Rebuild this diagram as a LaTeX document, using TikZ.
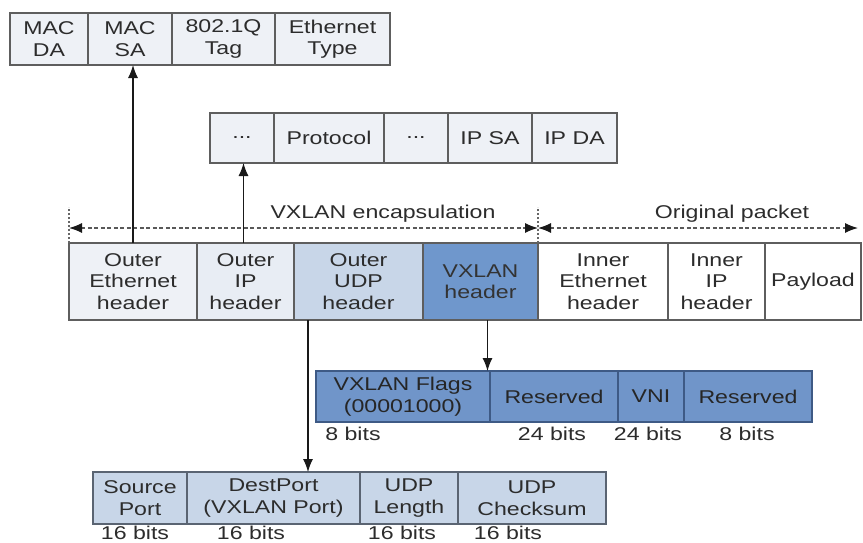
\documentclass[tikz,border=0pt]{standalone}
\usepackage{fontspec}
\setmainfont{Liberation Sans}[FakeStretch=1.25]
\usetikzlibrary{arrows.meta,calc}

\definecolor{txt}{HTML}{2C2C2C}
\definecolor{edge}{HTML}{5E5E5E}
\definecolor{pale}{HTML}{EEF1F6}
\definecolor{paleip}{HTML}{E8EDF4}
\definecolor{udpfill}{HTML}{C8D6E8}
\definecolor{vxfill}{HTML}{6F97CC}
\definecolor{flagfill}{HTML}{7095C9}
\definecolor{flagedge}{HTML}{3E5A85}
\definecolor{udpedge}{HTML}{5A6472}

\begin{document}
\begin{tikzpicture}[x=1pt,y=-1pt,
  every node/.style={font=\fontsize{18.5}{21.5}\selectfont, text=txt},
  cell/.style={draw=edge, line width=1.4pt, inner sep=0pt, outer sep=0pt,
    align=center, fill=pale},
  flagcell/.style={cell, draw=flagedge, fill=flagfill, text=black!85},
  udpcell/.style={cell, draw=udpedge, fill=udpfill},
  bitlbl/.style={inner sep=0pt},
  conn/.style={draw=black!90, line width=1.2pt, -{Latex[length=13pt,width=10pt]}},
  dimline/.style={draw=black!65, line width=1.2pt, dash pattern=on 4pt off 2.5pt,
    {Latex[length=13pt,width=10pt,fill=black!90,color=black!90]}-{Latex[length=13pt,width=10pt,fill=black!90,color=black!90]}},
  dimtick/.style={draw=black!60, line width=1.2pt, dash pattern=on 2pt off 2pt}]

\useasboundingbox (0,0) rectangle (863,542);
\fill[white] (0,0) rectangle (863,542);

% Ethernet header fields
\node[cell, minimum width=78pt,  minimum height=52pt] (macda) at (49,39)    {MAC\\DA};
\node[cell, minimum width=84pt,  minimum height=52pt] (macsa) at (130,39)   {MAC\\SA};
\node[cell, minimum width=103pt, minimum height=52pt] (vtag)  at (223.5,39) {802.1Q\\Tag};
\node[cell, minimum width=115pt, minimum height=52pt] (etype) at (332.5,39) {Ethernet\\Type};

% IP header fields
\node[cell, minimum width=64pt, minimum height=50pt] (ipa)   at (242,138)   {...};
\node[cell, minimum width=110pt,minimum height=50pt] (proto) at (329,138)   {Protocol};
\node[cell, minimum width=64pt, minimum height=50pt] (ipb)   at (416,138)   {...};
\node[cell, minimum width=84pt, minimum height=50pt] (ipsa)  at (490,138)   {IP SA};
\node[cell, minimum width=85pt, minimum height=50pt] (ipda)  at (574.5,138) {IP DA};

% VXLAN packet
\node[cell, minimum width=128pt, minimum height=77pt] (oeth) at (133,281.5)   {Outer\\Ethernet\\header};
\node[cell, minimum width=97pt,  minimum height=77pt, fill=paleip] (oip) at (245.5,281.5) {Outer\\IP\\header};
\node[cell, minimum width=129pt, minimum height=77pt, fill=udpfill] (oudp) at (358.5,281.5) {Outer\\UDP\\header};
\node[cell, minimum width=115pt, minimum height=77pt, fill=vxfill, text=black!80] (vxh) at (480.5,281.5) {VXLAN\\header};
\node[cell, minimum width=130pt, minimum height=77pt, fill=white] (ieth) at (603,281.5)   {Inner\\Ethernet\\header};
\node[cell, minimum width=97pt,  minimum height=77pt, fill=white] (iip)  at (716.5,281.5) {Inner\\IP\\header};
\node[cell, minimum width=96pt,  minimum height=77pt, fill=white] (pay)  at (813,281.5)   {Payload};

% Extent markers above the packet
\coordinate (encL)  at (69,228);
\coordinate (encR)  at (538,228);
\coordinate (origR) at (858,228);
\draw[dimtick] (oeth.north west) -- ++(0,-36);
\draw[dimtick] (ieth.north west) -- ++(0,-36);
\draw[dimline] (encL) -- (encR);
\draw[dimline] (encR) -- (origR);
\node (enclbl)  at (383,214) {VXLAN encapsulation};
\node (origlbl) at (732,214) {Original packet};

% VXLAN header fields
\node[flagcell, minimum width=174pt, minimum height=51pt] (flags) at (403,396.5) {VXLAN Flags\\(00001000)};
\node[flagcell, minimum width=128pt, minimum height=51pt] (resa)  at (554,396.5) {Reserved};
\node[flagcell, minimum width=66pt,  minimum height=51pt] (vni)   at (651,396.5) {VNI};
\node[flagcell, minimum width=128pt, minimum height=51pt] (resb)  at (748,396.5) {Reserved};
\node[bitlbl] (bf) at (353,434) {8 bits};
\node[bitlbl] (br) at (552,434) {24 bits};
\node[bitlbl] (bv) at (648,434) {24 bits};
\node[bitlbl] (bs) at (747,434) {8 bits};

% UDP header fields
\node[udpcell, minimum width=94pt,  minimum height=52pt] (sport) at (140,498)   {Source\\Port};
\node[udpcell, minimum width=173pt, minimum height=52pt] (dport) at (273.5,498) {DestPort\\(VXLAN Port)};
\node[udpcell, minimum width=98pt,  minimum height=52pt] (ulen)  at (409,498)   {UDP\\Length};
\node[udpcell, minimum width=148pt, minimum height=52pt] (csum)  at (532,498)   {UDP\\Checksum};
\node[bitlbl] (us) at (135,533) {16 bits};
\node[bitlbl] (ud) at (251,533) {16 bits};
\node[bitlbl] (ul) at (402,533) {16 bits};
\node[bitlbl] (uc) at (508,533) {16 bits};

% Expansion arrows
\draw[conn] (oeth.north) -- (oeth.north |- macsa.south);
\coordinate (oipt) at ($(oip.north)+(-2,0)$);
\draw[conn] (oipt) -- (oipt |- ipa.south);
\coordinate (udpout) at ($(oudp.south west)+(14,0)$);
\draw[conn] (udpout) -- (udpout |- dport.north);
\coordinate (vxout) at ($(vxh.south)+(7,0)$);
\draw[conn] (vxout) -- (vxout |- flags.north);
\end{tikzpicture}
\end{document}
